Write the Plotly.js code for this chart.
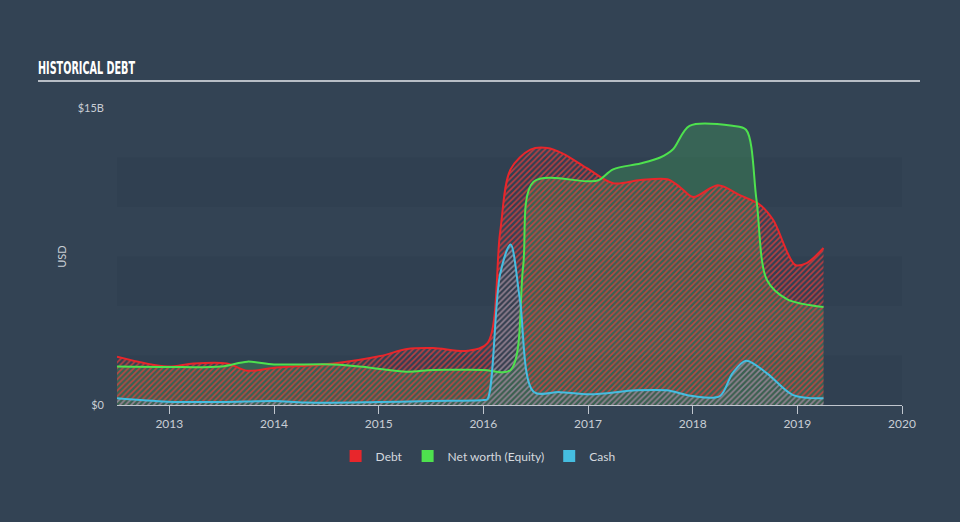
<!DOCTYPE html>
<html>
<head>
<meta charset="utf-8">
<script src="https://cdn.plot.ly/plotly-3.0.1.min.js"></script>
<style>html,body{margin:0;padding:0;background:#334354;}#chart{width:960px;height:522px;}</style>
</head>
<body>
<div id="chart"></div>
<script>
// Decimal-year dates and values in billions USD
const debtX = [2012.50, 2012.98, 2013.23, 2013.55, 2013.745, 2013.99, 2014.57, 2015.015, 2015.27, 2015.52, 2015.85, 2016.04, 2016.16, 2016.26, 2016.45, 2016.61, 2016.76, 2016.99, 2017.24, 2017.50, 2017.76, 2017.88, 2018.005, 2018.24, 2018.45, 2018.645, 2018.77, 2018.98, 2019.09, 2019.25];
const debtY = [2.44, 1.94, 2.10, 2.10, 1.73, 1.87, 2.10, 2.47, 2.83, 2.88, 2.74, 3.13, 8.7, 11.9, 12.9, 12.98, 12.7, 11.96, 11.2, 11.36, 11.4, 11.0, 10.5, 11.1, 10.6, 10.1, 9.34, 7.07, 7.17, 7.93];

const equityX = [2012.50, 2012.98, 2013.50, 2013.745, 2014.00, 2014.57, 2014.90, 2015.27, 2015.52, 2016.00, 2016.26, 2016.38, 2016.48, 2016.99, 2017.10, 2017.24, 2017.50, 2017.69, 2017.81, 2017.97, 2018.38, 2018.51, 2018.61, 2018.71, 2018.90, 2019.25];
const equityY = [1.94, 1.92, 1.95, 2.19, 2.05, 2.05, 1.90, 1.68, 1.77, 1.77, 1.77, 6.98, 11.28, 11.30, 11.35, 11.9, 12.2, 12.5, 12.9, 14.1, 14.1, 13.9, 10.35, 6.31, 5.35, 4.95];

const cashX = [2012.50, 2012.98, 2013.50, 2014.00, 2014.30, 2015.00, 2015.50, 2016.00, 2016.04, 2016.16, 2016.26, 2016.35, 2016.48, 2016.73, 2017.02, 2017.46, 2017.75, 2018.00, 2018.26, 2018.38, 2018.51, 2018.71, 2018.96, 2019.25];
const cashY = [0.34, 0.17, 0.15, 0.20, 0.12, 0.15, 0.20, 0.25, 0.30, 6.6, 8.1, 5.3, 0.67, 0.65, 0.54, 0.74, 0.74, 0.45, 0.45, 1.6, 2.24, 1.6, 0.5, 0.34];

const yearTicks = [2013, 2014, 2015, 2016, 2017, 2018, 2019, 2020];
const yTickVals = [0, 15];
const yTickText = ['$0', '$15B'];
const bandRanges = [[0, 2.5], [5, 7.5], [10, 12.5]];
const legendNames = ['Debt', 'Net worth (Equity)', 'Cash'];

const RED = '#e8262b', GREEN = '#4ee14e', BLUE = '#45bde0';
const SM = 0.9;

function areaTrace(x, y, fillcolor, pattern) {
  const t = {x: x, y: y, type: 'scatter', mode: 'lines', line: {width: 0, shape: 'spline', smoothing: SM, color: 'rgba(0,0,0,0)'},
    fill: 'tozeroy', fillcolor: fillcolor, showlegend: false, hoverinfo: 'skip'};
  if (pattern) t.fillpattern = pattern;
  return t;
}
function lineTrace(x, y, color) {
  return {x: x, y: y, type: 'scatter', mode: 'lines', line: {color: color, width: 2, shape: 'spline', smoothing: SM},
    showlegend: false, hoverinfo: 'skip'};
}

const traces = [
  areaTrace(equityX, equityY, 'rgba(70,200,90,0.25)'),
  areaTrace(debtX, debtY, 'rgba(0,0,0,0)', {shape: '/', fgcolor: 'rgba(235,60,60,0.75)', bgcolor: 'rgba(0,0,0,0)', size: 4, solidity: 0.4}),
  areaTrace(cashX, cashY, 'rgba(0,0,0,0)', {shape: '/', fgcolor: 'rgba(80,190,220,0.6)', bgcolor: 'rgba(0,0,0,0)', size: 4, solidity: 0.35}),
  lineTrace(debtX, debtY, RED),
  lineTrace(equityX, equityY, GREEN),
  lineTrace(cashX, cashY, BLUE),
  {x: [null], y: [null], type: 'bar', name: legendNames[0], marker: {color: RED}},
  {x: [null], y: [null], type: 'bar', name: legendNames[1], marker: {color: GREEN}},
  {x: [null], y: [null], type: 'bar', name: legendNames[2], marker: {color: BLUE}}
];

const shapes = bandRanges.map(r => ({type: 'rect', layer: 'below', xref: 'paper', yref: 'y', x0: 0, x1: 1, y0: r[0], y1: r[1],
  fillcolor: 'rgba(20,30,40,0.07)', line: {width: 0}}));
shapes.push({type: 'line', xref: 'paper', yref: 'paper', x0: (38 - 117) / 785, x1: (920 - 117) / 785, y0: (405 - 81) / 297, y1: (405 - 81) / 297,
  line: {color: '#b8bec6', width: 2}});

const layout = {
  width: 960, height: 522,
  paper_bgcolor: '#334354', plot_bgcolor: 'rgba(0,0,0,0)',
  margin: {l: 117, r: 58, t: 108, b: 117},
  font: {family: 'Lato, "Open Sans", sans-serif', color: '#c9ced4', size: 12},
  title: {text: '<b>HISTORICAL DEBT</b>', xref: 'container', yref: 'container', x: 38 / 960, xanchor: 'left', y: 1 - 68 / 522, yanchor: 'middle',
    font: {family: '"DejaVu Sans Condensed", "Liberation Sans Narrow", sans-serif', size: 18, color: '#ffffff'}},
  xaxis: {type: 'linear', range: [2012.5, 2020], tickvals: yearTicks, ticktext: yearTicks.map(String), showgrid: false, zeroline: false,
    showline: true, linecolor: '#c0c6ce', linewidth: 1, ticks: 'outside', ticklen: 8, tickcolor: '#c0c6ce',
    tickfont: {size: 12, color: '#c9ced4'}, fixedrange: true},
  yaxis: {range: [0, 15], tickvals: yTickVals, ticktext: yTickText, showgrid: false, zeroline: false, showline: false, ticks: '',
    ticklabelstandoff: 12, tickfont: {size: 11, color: '#c9ced4'},
    title: {text: 'USD', font: {size: 11, color: '#c9ced4'}, standoff: 8}, fixedrange: true},
  shapes: shapes,
  legend: {orientation: 'h', x: 0.46, xanchor: 'center', y: -0.172, yanchor: 'middle', font: {size: 12, color: '#d5d9de'},
    bgcolor: 'rgba(0,0,0,0)', itemwidth: 30, traceorder: 'normal'},
  showlegend: true
};

Plotly.newPlot('chart', traces, layout, {displayModeBar: false, staticPlot: true}).then(function (gd) {
  const t = gd.querySelector('.gtitle');
  if (t) {
    t.setAttribute('textLength', '97');
    t.setAttribute('lengthAdjust', 'spacingAndGlyphs');
  }
});
</script>
</body>
</html>
